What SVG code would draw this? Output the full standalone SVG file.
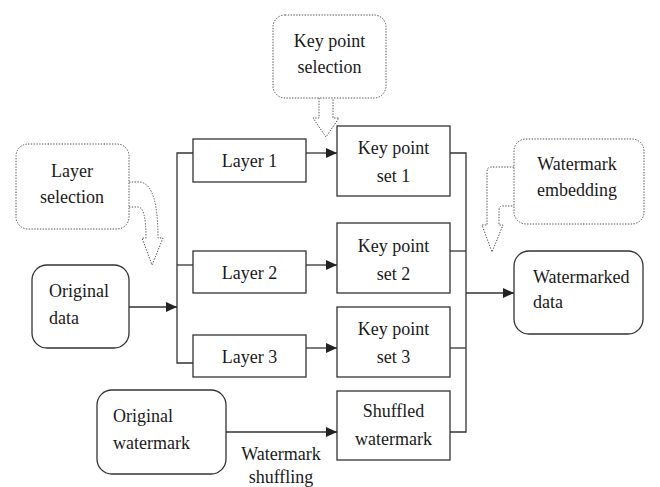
<svg xmlns="http://www.w3.org/2000/svg" width="660" height="487" viewBox="0 0 660 487">
<style>
.box{fill:#fff;stroke:#333;stroke-width:1.3}
.dot{fill:none;stroke:#555;stroke-width:1;stroke-dasharray:1.4 1.4}
.ln{fill:none;stroke:#333;stroke-width:1.3}
.t{font-family:"Times New Roman","Liberation Serif","DejaVu Serif",serif;font-size:18px;fill:#1a1a1a}
.c{text-anchor:middle}
</style>
<defs>
<marker id="ah" markerWidth="12" markerHeight="10" refX="11" refY="5" orient="auto" markerUnits="userSpaceOnUse">
<path d="M0,0 L11,5 L0,10 Z" fill="#222"/>
</marker>
</defs>
<rect width="660" height="487" fill="#fff"/>
<g id="connectors">
<path class="ln" d="M129,307 L177,307" marker-end="url(#ah)"/>
<path class="ln" d="M193,153 L177,153 L177,363 L193,363"/>
<path class="ln" d="M177,265 L193,265"/>
<path class="ln" d="M306,153 L337,153" marker-end="url(#ah)"/>
<path class="ln" d="M306,265 L337,265" marker-end="url(#ah)"/>
<path class="ln" d="M306,348 L337,348" marker-end="url(#ah)"/>
<path class="ln" d="M226,432 L337,432" marker-end="url(#ah)"/>
<path class="ln" d="M450,153 L466,153 L466,432 L450,432"/>
<path class="ln" d="M450,251 L466,251"/>
<path class="ln" d="M450,348 L466,348"/>
<path class="ln" d="M466,293 L514,293" marker-end="url(#ah)"/>
<path class="dot" d="M129,182 L140,182 Q158,184 158,238 L163,238 L152,265 L142,238 L146,238 Q146,207 138,207 L129,207"/>
<path class="dot" d="M319,98 L319,118 L313,118 L326,137 L339,118 L333,118 L333,98"/>
<path class="dot" d="M514,167 L491,167 Q487,167 487,172 L487,225 L482,225 L492,252 L503,225 L499,225 L499,210 Q499,206 503,206 L514,206"/>
<text x="281" y="460" class="t c">Watermark</text>
<text x="281" y="483" class="t c">shuffling</text>
</g>
<g id="original-data">
<rect class="box" x="32" y="265" width="97" height="83" rx="15"/>
<text x="49" y="297" class="t">Original</text>
<text x="49" y="324" class="t">data</text>
</g>
<g id="layer-selection">
<rect class="dot" x="16" y="144" width="113" height="85" rx="12"/>
<text x="72" y="177" class="t c">Layer</text>
<text x="72" y="203" class="t c">selection</text>
</g>
<g id="key-point-selection">
<rect class="dot" x="273" y="15" width="113" height="83" rx="12"/>
<text x="329.5" y="47" class="t c">Key point</text>
<text x="329.5" y="73" class="t c">selection</text>
</g>
<g id="watermark-embedding">
<rect class="dot" x="514" y="139" width="130" height="85" rx="12"/>
<text x="577" y="170" class="t c">Watermark</text>
<text x="577" y="196" class="t c">embedding</text>
</g>
<g id="layer1">
<rect class="box" x="193" y="139" width="113" height="43"/>
<text x="249.5" y="167" class="t c">Layer 1</text>
</g>
<g id="layer2">
<rect class="box" x="193" y="251" width="113" height="42"/>
<text x="249.5" y="279" class="t c">Layer 2</text>
</g>
<g id="layer3">
<rect class="box" x="193" y="335" width="113" height="42"/>
<text x="249.5" y="363" class="t c">Layer 3</text>
</g>
<g id="kp1">
<rect class="box" x="337" y="126" width="113" height="70"/>
<text x="393.5" y="154" class="t c">Key point</text>
<text x="393.5" y="182" class="t c">set 1</text>
</g>
<g id="kp2">
<rect class="box" x="337" y="223" width="113" height="70"/>
<text x="393.5" y="252" class="t c">Key point</text>
<text x="393.5" y="280" class="t c">set 2</text>
</g>
<g id="kp3">
<rect class="box" x="337" y="307" width="113" height="70"/>
<text x="393.5" y="335" class="t c">Key point</text>
<text x="393.5" y="363" class="t c">set 3</text>
</g>
<g id="shuffled-watermark">
<rect class="box" x="337" y="391" width="113" height="69"/>
<text x="393.5" y="417" class="t c">Shuffled</text>
<text x="393.5" y="445" class="t c">watermark</text>
</g>
<g id="original-watermark">
<rect class="box" x="97" y="390" width="129" height="84" rx="15"/>
<text x="113" y="422" class="t">Original</text>
<text x="113" y="449" class="t">watermark</text>
</g>
<g id="watermarked-data">
<rect class="box" x="514" y="251" width="129" height="83" rx="15"/>
<text x="533" y="283" class="t">Watermarked</text>
<text x="533" y="308" class="t">data</text>
</g>
</svg>
